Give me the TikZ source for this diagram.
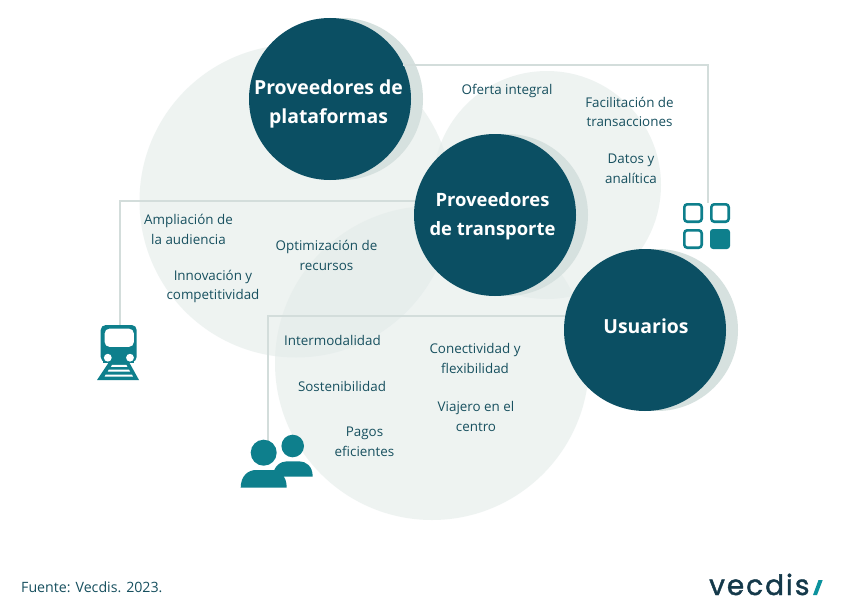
\documentclass[tikz,border=0pt]{standalone}
\usepackage{fontspec}
\setmainfont{Open Sans}
\newfontfamily\logofont[FakeBold=1.5,LetterSpace=7]{Poppins}
\definecolor{deep}{HTML}{0B4F63}
\definecolor{tealicon}{HTML}{0E7F8C}
\definecolor{halo}{HTML}{D6E1DF}
\definecolor{wash}{HTML}{E3EBE9}
\definecolor{linkc}{HTML}{D3DDDB}
\definecolor{labelc}{HTML}{17505F}
\definecolor{logoc}{HTML}{14394A}
\tikzset{
  x=1pt,y=-1pt,
  bigdisc/.style={fill=wash,fill opacity=.6,draw=none},
  hub/.style={circle,fill=deep,draw=none,minimum size=162pt,inner sep=0pt,outer sep=0pt},
  haloc/.style={fill=halo,draw=none},
  hubtext/.style={text=white,font=\fontsize{19.4}{29}\selectfont\bfseries,align=center,inner sep=0pt},
  lab/.style={text=labelc,font=\fontsize{13.4}{19.6}\selectfont,align=center,inner sep=0pt},
  link/.style={draw=linkc,line width=2pt},
  anchorbox/.style={inner sep=0pt,minimum size=0pt,outer sep=0pt},
  icon/.style={fill=tealicon,draw=none},
}
\begin{document}
\begin{tikzpicture}
\useasboundingbox (0,0) rectangle (853,610);
\fill[white] (0,0) rectangle (853,610);
% large background discs
\fill[bigdisc] (296,201) circle (156.5);
\fill[bigdisc] (547,185) circle (114);
\fill[bigdisc] (432,363) circle (157);
% halos
\fill[haloc] (342,99) circle (81);
\fill[haloc] (507,215) circle (81);
\fill[haloc] (657,330) circle (81);
% end points of the connectors
\node[anchorbox,minimum width=47pt,minimum height=46pt] (grid) at (707.5,226) {};
\node[anchorbox,minimum width=42pt,minimum height=55pt] (train) at (119.5,352.5) {};
\node[anchorbox,minimum width=4pt,minimum height=4pt] (people) at (267.5,442) {};
% hubs
\node[hub] (plat) at (330,99) {};
\node[hub] (trans) at (495,215) {};
\node[hub] (usr) at (645,330) {};
% connectors
\draw[link] (plat.25.6) -| (grid.north);
\draw[link] (trans.170.8) -| (train.north);
\draw[link] (usr.170.8) -| (people.south);
% hub text
\node[hubtext] (platt) at (328.5,103.5) {Proveedores de\\plataformas};
\node[hubtext,font=\fontsize{18.4}{29}\selectfont\bfseries] (transt) at (492.5,216.5) {Proveedores\\de transporte};
\node[hubtext] (usrt) at (646,326.5) {Usuarios};
% labels
\node[lab] (l1) at (507,91) {Oferta integral};
\node[lab] (l2) at (629.5,112) {Facilitación de\\transacciones};
\node[lab] (l3) at (631,169) {Datos y\\analítica};
\node[lab] (l4) at (188.5,229.5) {Ampliación de\\la audiencia};
\node[lab] (l5) at (326.5,255.5) {Optimización de\\recursos};
\node[lab] (l6) at (213,286.5) {Innovación y\\competitividad};
\node[lab] (l7) at (332.5,340) {Intermodalidad};
\node[lab] (l8) at (342,386) {Sostenibilidad};
\node[lab] (l9) at (475,358.5) {Conectividad y\\flexibilidad};
\node[lab] (l10) at (476,416.5) {Viajero en el\\centro};
\node[lab] (l11) at (364.5,441.5) {Pagos\\eficientes};
\node[lab,anchor=west,font=\fontsize{14.2}{17}\selectfont] (src) at (21,587.5) {Fuente: Vecdis. 2023.};
% grid icon
\foreach \gx/\gy in {693/213,720/213,693/239}{
  \draw[draw=tealicon,line width=2.6pt,rounded corners=3pt] (\gx-8.7,\gy-8.7) rectangle (\gx+8.7,\gy+8.7);
}
\fill[icon,rounded corners=3pt] (710,229) rectangle (730,249);
% train icon
\fill[icon,even odd rule,rounded corners=5pt]
  (100.7,325) rectangle (136.7,362)
  (104.5,328.5) rectangle (134,347);
\fill[icon] (103,358) rectangle (134,363);
\fill[white] (107.8,357.7) circle (3.9);
\fill[white] (130,357.7) circle (3.9);
\fill[icon] (109,362) -- (129,362) -- (139,380) -- (97,380) -- cycle;
\fill[white] (112,364.8) -- (126.4,364.8) -- (127.4,366.8) -- (111,366.8) -- cycle;
\fill[white] (108.8,369.6) -- (129,369.6) -- (130.1,371.6) -- (107.8,371.6) -- cycle;
\fill[white] (105.6,374.6) -- (132,374.6) -- (133,376.6) -- (104.6,376.6) -- cycle;
% people icon
\fill[icon] (292.7,446) circle (11.3);
\fill[icon] (273,476.7) .. controls (273,466) and (281,461.3) .. (287,461.3)
  -- (299,461.3) .. controls (306,461.3) and (312.7,466) .. (312.7,476.7) -- cycle;
\fill[icon] (263.7,452.7) circle (13);
\fill[icon] (240.7,487.7) .. controls (240.7,476) and (248,470) .. (256,470)
  -- (271,470) .. controls (280,470) and (286.7,476) .. (286.7,487.7) -- cycle;
% logo
\node[anchor=base west,inner sep=0pt,text=logoc,font=\logofont\fontsize{28}{28}\selectfont] (logo) at (709,595) {vecdis};
\fill[fill=tealicon!85!cyan] (818.5,580) -- (822.7,580) -- (817,595) -- (813,595) -- cycle;
\end{tikzpicture}
\end{document}
